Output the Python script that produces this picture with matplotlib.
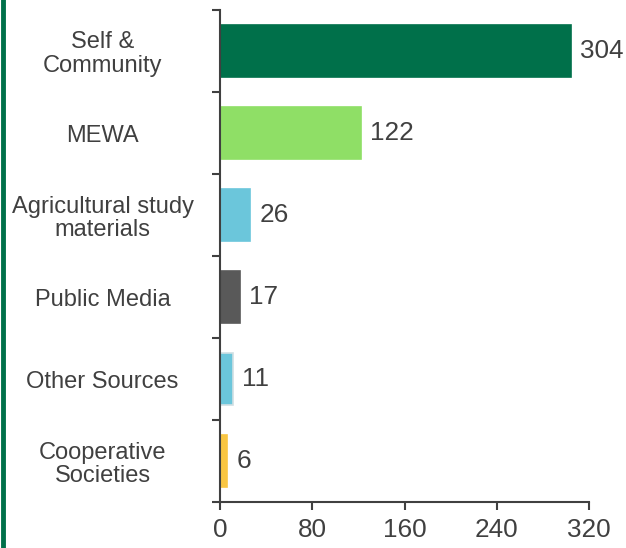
import matplotlib
matplotlib.use("Agg")
import matplotlib.pyplot as plt
import numpy as np

categories = ["Self &\nCommunity", "MEWA", "Agricultural study\nmaterials",
              "Public Media", "Other Sources", "Cooperative\nSocieties"]
values = [304, 122, 26, 17, 11, 6]
colors = ["#00704a", "#8fdf66", "#6bc6db", "#595959", "#6bc6db", "#f9c642"]
edges = ["#00704a", "#8fdf66", "#6bc6db", "#595959", "#d0dfe3", "#f9c642"]
xticks = [0, 80, 160, 240, 320]

plt.rcParams['font.family'] = ['Liberation Sans', 'DejaVu Sans']
txt = "#404040"

fig = plt.figure(figsize=(6.26, 5.48), dpi=100)
ax = fig.add_axes([220/626, 46/548, 369/626, 492/548])

y = np.arange(len(categories))
bars = ax.barh(y, values, height=0.63, color=colors, edgecolor=edges, linewidth=1.2)
ax.set_ylim(len(categories) - 0.5, -0.5)
ax.set_xlim(0, 320)

for yi, v in zip(y, values):
    ax.annotate(str(v), xy=(v, yi), xytext=(7, 0), textcoords="offset points",
                ha="left", va="center", fontsize=18.8, color=txt)

ax.set_yticks(y)
ax.set_yticklabels(categories, fontsize=17, color=txt, ha="center", multialignment="center",
                   linespacing=1.1)
ax.tick_params(axis="y", which="major", length=0, pad=84.5)
ax.set_yticks(np.arange(-0.5, len(categories) + 0.5, 1), minor=True)
ax.tick_params(axis="y", which="minor", length=5.5, width=1.5, color=txt, direction="out")

ax.set_xticks(xticks)
ax.set_xticklabels([str(t) for t in xticks], fontsize=18.8, color=txt)
ax.tick_params(axis="x", length=5.5, width=1.5, color=txt, direction="out", pad=6)

for s in ["top", "right"]:
    ax.spines[s].set_visible(False)
for s in ["left", "bottom"]:
    ax.spines[s].set_color(txt)
    ax.spines[s].set_linewidth(1.5)

fig.add_artist(plt.Line2D([2.5/626, 2.5/626], [0, 1], transform=fig.transFigure,
                          color="#00704a", linewidth=3.5))

fig.savefig("out.png", dpi=100)
